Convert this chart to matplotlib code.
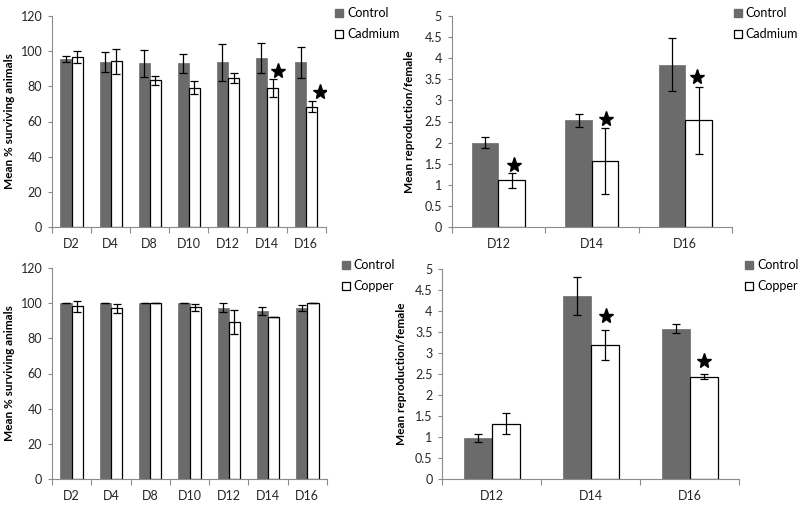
import matplotlib
matplotlib.use("Agg")
import matplotlib.pyplot as plt
import numpy as np
from matplotlib.patches import Patch

plt.rcParams['font.family'] = ['Lato', 'DejaVu Sans']

# ---------------- data ----------------
days_surv = ["D2", "D4", "D8", "D10", "D12", "D14", "D16"]
days_repro = ["D12", "D14", "D16"]

# Cadmium survival
cd_surv_ctrl = [95.8, 94.0, 93.0, 93.0, 93.8, 96.3, 93.7]
cd_surv_ctrl_err = [1.7, 5.8, 7.6, 5.2, 10.5, 8.5, 8.8]
cd_surv_trt = [96.7, 94.2, 83.5, 79.2, 84.6, 79.1, 68.4]
cd_surv_trt_err = [3.2, 7.2, 2.5, 3.7, 2.7, 5.1, 3.0]
cd_surv_star_x = [5.77, 6.86]
cd_surv_star_y = [89.0, 76.5]

# Cadmium reproduction
cd_rep_ctrl = [2.00, 2.53, 3.85]
cd_rep_ctrl_err = [0.13, 0.15, 0.63]
cd_rep_trt = [1.11, 1.57, 2.53]
cd_rep_trt_err = [0.18, 0.78, 0.79]
cd_rep_star_x = [0.67, 1.65, 2.63]
cd_rep_star_y = [1.48, 2.55, 3.55]

# Copper survival
cu_surv_ctrl = [100.0, 100.0, 100.0, 100.0, 97.5, 95.5, 97.3]
cu_surv_ctrl_err = [0.0, 0.0, 0.0, 0.0, 2.5, 2.5, 1.8]
cu_surv_trt = [98.2, 97.1, 100.0, 97.7, 89.4, 92.0, 100.0]
cu_surv_trt_err = [3.3, 2.7, 0.0, 2.0, 6.7, 0.0, 0.0]

# Copper reproduction
cu_rep_ctrl = [0.98, 4.36, 3.58]
cu_rep_ctrl_err = [0.10, 0.46, 0.10]
cu_rep_trt = [1.32, 3.19, 2.44]
cu_rep_trt_err = [0.24, 0.36, 0.06]
cu_rep_star_x = [1.65, 2.64]
cu_rep_star_y = [3.87, 2.80]

GRAY = "#6b6b6b"
SPINE = "#8c8c8c"
TXT = "#262626"

fig = plt.figure(figsize=(8.0, 5.09), dpi=100)


def make_panel(rect, cats, ctrl, ctrl_err, trt, trt_err, ymax, ystep, ylabel,
               trt_name, legend_xy, ylabel_x, star_x=None, star_y=None,
               fmt="{:g}"):
    ax = fig.add_axes(rect)
    n = len(cats)
    x = np.arange(n) + 0.5
    w = 0.285
    ekw = dict(ecolor="black", elinewidth=0.9, capsize=2.6, capthick=0.9)
    ax.bar(x - w / 2, ctrl, w, color=GRAY, edgecolor=GRAY, linewidth=0.5,
           yerr=ctrl_err, error_kw=ekw, zorder=2)
    ax.bar(x + w / 2, trt, w, color="white", edgecolor="black", linewidth=0.9,
           yerr=trt_err, error_kw=ekw, zorder=2)
    if star_x is not None:
        ax.plot(star_x, star_y, linestyle="none", marker="*", color="black",
                markersize=11, zorder=3)
    ax.set_xlim(0, n)
    ax.set_ylim(0, ymax)
    yt = np.arange(0, ymax + ystep / 2, ystep)
    ax.set_yticks(yt)
    ax.set_yticklabels([fmt.format(round(v, 2)) for v in yt])
    ax.set_xticks(x)
    ax.set_xticklabels(cats)
    ax.set_xticks(np.arange(n + 1), minor=True)
    ax.tick_params(axis="x", which="major", length=0, pad=8, labelsize=9,
                   colors=TXT)
    ax.tick_params(axis="x", which="minor", length=4, color=SPINE, width=0.8)
    ax.tick_params(axis="y", length=3, color=SPINE, width=0.8, labelsize=9,
                   colors=TXT, pad=4)
    for s in ("top", "right"):
        ax.spines[s].set_visible(False)
    for s in ("left", "bottom"):
        ax.spines[s].set_color(SPINE)
        ax.spines[s].set_linewidth(0.8)
    ax.set_ylabel(ylabel, fontsize=8.5, fontweight="bold", color="black")
    ax.yaxis.set_label_coords(ylabel_x, 0.5)
    handles = [Patch(facecolor=GRAY, edgecolor=GRAY, label="Control"),
               Patch(facecolor="white", edgecolor="black", linewidth=0.9,
                     label=trt_name)]
    ax.legend(handles=handles, loc="upper left", bbox_to_anchor=legend_xy,
              bbox_transform=fig.transFigure, frameon=False, fontsize=9,
              handlelength=0.6, handleheight=0.6, handletextpad=0.35,
              labelspacing=0.75, borderaxespad=0, borderpad=0)
    return ax


H = 509.0
W = 800.0


def rect(l, r, b, t):
    return [l / W, 1 - b / H, (r - l) / W, (b - t) / H]


make_panel(rect(52, 325.7, 227, 16), days_surv, cd_surv_ctrl, cd_surv_ctrl_err,
           cd_surv_trt, cd_surv_trt_err, 120, 20, "Mean % surviving animals",
           "Cadmium", (335 / W, 1 - 7 / H), -0.135, cd_surv_star_x, cd_surv_star_y)

make_panel(rect(451.7, 732, 227, 16), days_repro, cd_rep_ctrl, cd_rep_ctrl_err,
           cd_rep_trt, cd_rep_trt_err, 5, 0.5, "Mean reproduction/female",
           "Cadmium", (734 / W, 1 - 7 / H), -0.13, cd_rep_star_x, cd_rep_star_y)

make_panel(rect(52, 327, 479, 268), days_surv, cu_surv_ctrl, cu_surv_ctrl_err,
           cu_surv_trt, cu_surv_trt_err, 120, 20, "Mean % surviving animals",
           "Copper", (342 / W, 1 - 259 / H), -0.135)

make_panel(rect(442.3, 739.3, 479, 269), days_repro, cu_rep_ctrl, cu_rep_ctrl_err,
           cu_rep_trt, cu_rep_trt_err, 5, 0.5, "Mean reproduction/female",
           "Copper", (745 / W, 1 - 259 / H), -0.12, cu_rep_star_x, cu_rep_star_y)

fig.savefig("out.png", dpi=100)
